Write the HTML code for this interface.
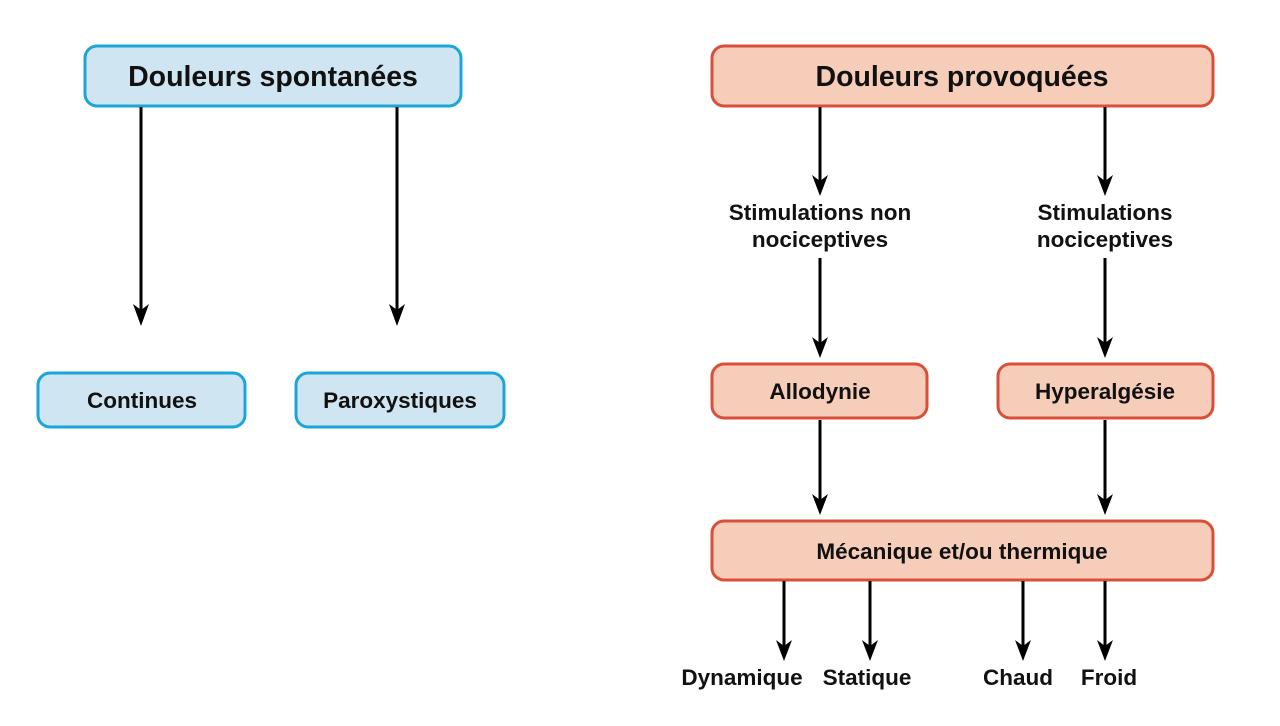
<!DOCTYPE html>
<html><head><meta charset="utf-8"><style>
html,body{margin:0;padding:0;background:#fff;}
svg{display:block;}
text{font-family:"Liberation Sans",sans-serif;font-weight:bold;fill:#111;text-anchor:middle;}
</style></head><body>
<svg width="1280" height="726" viewBox="0 0 1280 726" xmlns="http://www.w3.org/2000/svg">
<g fill="#cfe5f1" stroke="#1ba6d6" stroke-width="3">
<rect x="85" y="46" width="376" height="60" rx="12"/>
<rect x="38" y="373" width="207" height="54" rx="12"/>
<rect x="296" y="373" width="208" height="54" rx="12"/>
</g>
<g fill="#f5cdb9" stroke="#d9503a" stroke-width="3">
<rect x="712" y="46" width="501" height="60" rx="12"/>
<rect x="712" y="364" width="215" height="54" rx="12"/>
<rect x="998" y="364" width="215" height="54" rx="12"/>
<rect x="712" y="521" width="501" height="59" rx="12"/>
</g>
<g stroke="#000" stroke-width="3">
<line x1="141" y1="107" x2="141" y2="312"/>
<line x1="397" y1="107" x2="397" y2="312"/>
<line x1="820" y1="107" x2="820" y2="182"/>
<line x1="1105" y1="107" x2="1105" y2="182"/>
<line x1="820" y1="258" x2="820" y2="344"/>
<line x1="1105" y1="258" x2="1105" y2="344"/>
<line x1="820" y1="420" x2="820" y2="501"/>
<line x1="1105" y1="420" x2="1105" y2="501"/>
<line x1="784" y1="581" x2="784" y2="648"/>
<line x1="870" y1="581" x2="870" y2="648"/>
<line x1="1023" y1="581" x2="1023" y2="648"/>
<line x1="1105" y1="581" x2="1105" y2="648"/>
</g>
<g fill="#000">
<path d="M133,304 L141,310 L149,304 L141,326 Z"/>
<path d="M389,304 L397,310 L405,304 L397,326 Z"/>
<path d="M812,175 L820,181 L828,175 L820,196 Z"/>
<path d="M1097,175 L1105,181 L1113,175 L1105,196 Z"/>
<path d="M812,337 L820,343 L828,337 L820,358 Z"/>
<path d="M1097,337 L1105,343 L1113,337 L1105,358 Z"/>
<path d="M812,494 L820,500 L828,494 L820,515 Z"/>
<path d="M1097,494 L1105,500 L1113,494 L1105,515 Z"/>
<path d="M776,640 L784,646 L792,640 L784,661 Z"/>
<path d="M862,640 L870,646 L878,640 L870,661 Z"/>
<path d="M1015,640 L1023,646 L1031,640 L1023,661 Z"/>
<path d="M1097,640 L1105,646 L1113,640 L1105,661 Z"/>
</g>
<text x="273" y="86" font-size="28.5">Douleurs spontanées</text>
<text x="962" y="86" font-size="28.5">Douleurs provoquées</text>
<text x="142" y="408" font-size="22.5">Continues</text>
<text x="400" y="408" font-size="22.5">Paroxystiques</text>
<text x="820" y="399" font-size="22.5">Allodynie</text>
<text x="1105" y="399" font-size="22.5">Hyperalgésie</text>
<text x="962" y="559" font-size="22.5">Mécanique et/ou thermique</text>
<text x="820" y="220" font-size="22.5">Stimulations non</text>
<text x="820" y="247" font-size="22.5">nociceptives</text>
<text x="1105" y="220" font-size="22.5">Stimulations</text>
<text x="1105" y="247" font-size="22.5">nociceptives</text>
<text x="742" y="685" font-size="22.5">Dynamique</text>
<text x="867" y="685" font-size="22.5">Statique</text>
<text x="1018" y="685" font-size="22.5">Chaud</text>
<text x="1109" y="685" font-size="22.5">Froid</text>
</svg>
</body></html>
